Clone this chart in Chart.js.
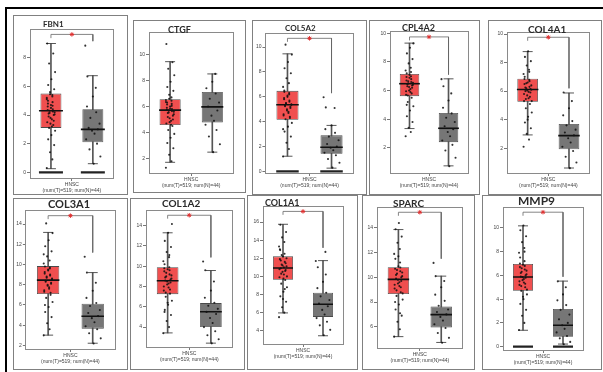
<!DOCTYPE html>
<html><head><meta charset="utf-8">
<script src="https://cdn.jsdelivr.net/npm/chart.js@4"></script>
<style>
html,body{margin:0;padding:0;background:#fff;}
body{width:603px;height:372px;position:relative;overflow:hidden;font-family:"Lato","Open Sans","Liberation Sans",sans-serif;}
.frame{position:absolute;box-sizing:border-box;border:1px solid #808080;}
.cbox{position:absolute;}
.title{position:absolute;font-weight:bold;color:#2a2a2a;white-space:nowrap;line-height:1;transform:translateY(-50%);}
#topline{position:absolute;left:5px;top:7px;width:598px;height:2px;background:#000;}
#leftline{position:absolute;left:5px;top:7px;width:2px;height:365px;background:#000;}
</style></head><body>
<div id="topline"></div><div id="leftline"></div>
<div id="root"></div>
<script>
// ---------------- DATA ----------------
const genes = ['FBN1','CTGF','COL5A2','CPL4A2','COL4A1','COL3A1','COL1A2','COL1A1','SPARC','MMP9'];
const groups = ['Tumor','Normal'];
const xLabel = ['HNSC','(num(T)=519; num(N)=44)'];
const yMin = [-0.4, 0.9, -0.13, 0.23, 0.26, 1.65, 2.04, 2.54, 4.28, -0.28];
const yMax = [10.0, 11.67, 11.1, 10.1, 10.12, 15.3, 15.5, 17.7, 15.67, 11.74];
const yTicks = [
  [0,2,4,6,8],[2,4,6,8,10],[0,2,4,6,8,10],[2,4,6,8,10],[2,4,6,8,10],
  [2,4,6,8,10,12,14],[4,6,8,10,12,14],[4,6,8,10,12,14,16],[6,8,10,12,14],[0,2,4,6,8,10]
];
const tumorLow    = [0.25, 1.72, 1.22, 3.34, 2.93, 3.02, 3.43, 5.97, 5.2, 1.38];
const tumorQ1     = [3.1, 4.58, 4.15, 5.61, 5.25, 7.09, 7.25, 9.62, 8.65, 4.7];
const tumorMedian = [4.3, 5.72, 5.36, 6.48, 6.11, 8.46, 8.57, 10.93, 9.84, 5.86];
const tumorQ3     = [5.5, 6.56, 6.48, 7.16, 6.87, 9.84, 9.9, 12.21, 10.82, 6.96];
const tumorHigh   = [9.0, 9.44, 9.46, 9.32, 8.77, 13.17, 13.3, 15.75, 13.87, 10.17];
const normalLow    = [0.6, 2.5, 0.26, 0.73, 0.61, 2.22, 2.42, 3.45, 4.73, 0.22];
const normalQ1     = [2.1, 4.78, 1.42, 2.39, 1.93, 3.66, 4.0, 5.53, 5.95, 0.83];
const normalMedian = [3.0, 5.97, 1.94, 3.36, 2.88, 4.88, 5.51, 6.92, 6.98, 1.8];
const normalQ3     = [4.4, 7.11, 2.9, 4.43, 3.69, 6.13, 6.37, 8.2, 7.64, 3.18];
const normalHigh   = [6.75, 8.5, 3.7, 6.82, 5.87, 9.2, 9.58, 11.74, 10.1, 5.52];
const tumorPoints = [
  [0.3,0.9,1.4,1.9,2.3,2.6,2.9,3.1,3.3,3.5,3.7,3.8,4.0,4.1,4.2,4.3,4.4,4.6,4.7,4.9,5.0,5.2,5.4,5.6,5.8,6.1,6.5,7.0,7.6,8.3,9.0,
   3.2,3.4,3.6,3.9,4.05,4.15,4.25,4.35,4.5,4.65,4.8,5.1,5.3,5.45],
  [1.3,1.8,2.3,2.8,3.2,3.6,3.9,4.2,4.5,4.7,4.9,5.1,5.3,5.5,5.6,5.7,5.8,5.9,6.0,6.2,6.3,6.5,6.7,6.9,7.2,7.5,7.9,8.4,8.9,9.4,10.8,
   4.6,4.8,5.0,5.2,5.4,5.55,5.65,5.75,5.85,6.05,6.15,6.35,6.45,6.6],
  [1.2,1.8,2.3,2.8,3.2,3.6,3.9,4.2,4.4,4.6,4.8,5.0,5.2,5.3,5.4,5.5,5.7,5.9,6.1,6.3,6.5,6.8,7.1,7.5,7.9,8.3,8.8,9.4,10.2,
   4.3,4.5,4.7,4.9,5.1,5.25,5.35,5.45,5.6,5.8,6.0,6.2,6.4,3.4],
  [2.8,3.1,3.4,3.8,4.2,4.6,4.9,5.2,5.5,5.7,5.9,6.0,6.2,6.3,6.4,6.5,6.6,6.7,6.9,7.0,7.2,7.4,7.6,7.9,8.2,8.6,9.0,9.3,
   5.65,5.8,5.95,6.1,6.25,6.35,6.45,6.55,6.65,6.8,6.95,7.1,7.3,5.0],
  [2.1,2.6,3.0,3.4,3.8,4.2,4.5,4.8,5.1,5.3,5.5,5.7,5.9,6.0,6.1,6.2,6.3,6.5,6.6,6.8,7.0,7.2,7.5,7.8,8.1,8.4,8.8,
   5.3,5.45,5.6,5.8,5.95,6.05,6.15,6.25,6.4,6.55,6.7,6.85,4.0,7.35],
  [3.0,3.6,4.2,4.8,5.3,5.8,6.3,6.7,7.0,7.3,7.6,7.9,8.1,8.3,8.5,8.7,8.9,9.1,9.4,9.6,9.8,10.1,10.4,10.8,11.3,11.8,12.4,13.1,14.06,
   7.2,7.45,7.75,8.0,8.2,8.4,8.6,8.8,9.0,9.25,9.5,9.7,6.0,11.0],
  [3.4,4.0,4.6,5.2,5.7,6.2,6.6,7.0,7.3,7.6,7.9,8.2,8.4,8.6,8.8,9.0,9.2,9.5,9.7,9.9,10.2,10.5,10.9,11.4,11.9,12.5,13.3,14.16,
   7.4,7.7,8.0,8.3,8.5,8.7,8.9,9.1,9.35,9.6,9.8,6.4,11.1,5.5],
  [5.5,6.0,6.6,7.2,7.8,8.3,8.8,9.2,9.6,9.9,10.2,10.5,10.7,10.9,11.1,11.3,11.6,11.9,12.2,12.5,12.9,13.3,13.8,14.3,14.9,15.7,
   9.75,10.0,10.3,10.6,10.8,11.0,11.2,11.45,11.75,12.0,12.35,8.6,13.0,7.5],
  [5.2,5.8,6.4,6.9,7.4,7.8,8.2,8.5,8.8,9.1,9.3,9.5,9.7,9.9,10.1,10.3,10.5,10.7,10.9,11.2,11.5,11.9,12.3,12.8,13.3,13.9,14.4,
   8.7,8.95,9.2,9.4,9.6,9.8,10.0,10.2,10.4,10.6,10.8,8.0,11.7,7.1],
  [1.4,2.0,2.6,3.1,3.6,4.0,4.4,4.7,5.0,5.2,5.4,5.6,5.8,5.9,6.1,6.3,6.5,6.7,6.9,7.2,7.5,7.9,8.3,8.8,9.3,9.8,10.2,
   4.8,5.1,5.3,5.5,5.7,5.85,6.0,6.2,6.4,6.6,6.8,7.0,4.2,8.0]
];
const normalPoints = [
  [0.6,1.1,1.6,2.0,2.3,2.7,2.9,3.0,3.1,3.4,3.8,4.2,4.6,5.3,5.9,6.7,8.85],
  [2.5,3.1,3.7,4.2,4.6,4.9,5.3,5.7,6.0,6.3,6.6,7.0,7.4,7.9,8.5],
  [0.3,0.7,1.0,1.3,1.5,1.7,1.9,2.0,2.2,2.5,2.8,3.1,3.4,3.7,5.1,5.15,5.96],
  [0.7,1.3,1.8,2.2,2.5,2.8,3.1,3.3,3.5,3.8,4.1,4.4,4.8,5.3,5.8,6.3,6.8],
  [0.6,1.0,1.4,1.8,2.1,2.4,2.7,2.9,3.1,3.3,3.6,3.9,4.3,4.8,5.3,5.9],
  [2.2,2.7,3.2,3.6,3.9,4.3,4.7,4.9,5.2,5.5,5.9,6.2,6.7,7.4,8.2,9.2,10.77],
  [2.4,2.8,3.2,3.6,4.0,4.4,4.9,5.3,5.5,5.8,6.1,6.4,6.9,7.6,8.5,9.6,10.47],
  [3.5,4.1,4.6,5.0,5.4,5.8,6.3,6.7,7.0,7.4,7.8,8.2,8.7,9.4,10.2,11.0,11.7,12.7],
  [4.7,5.1,5.5,5.9,6.2,6.5,6.8,7.0,7.2,7.4,7.7,8.1,8.6,9.2,9.7,10.1,11.17],
  [0.2,0.4,0.7,0.9,1.2,1.5,1.8,2.0,2.3,2.7,3.1,3.5,3.9,4.4,5.0,5.5]
];
const zeroCluster = [true,false,true,false,false,false,false,false,false,true];
const significant = [true,false,true,true,true,true,true,true,true,true];

// ---------------- LAYOUT / STYLE ----------------
const frames = [[13,15,115,180],[133,20,113,173],[252,20,115,175],[369,20,111,175],[488,20,114,175],
                [13,198,115,172],[130,198,115,172],[247,195,111,175],[362,195,113,175],[482,195,120,175]];
const plots = [[30,25,126,178],[149,32,237,173],[265,28,355,173],[390,28,473,173],[507,32,593,173],
               [25,207,115,349],[146,205,233,347],[263,205,343,344],[377,205,463,348],[503,205,583,350]];
const titles = [[43,24,8],[168,29,9],[285,28,8],[402,27,9],[528,29,10],[48,203,11],[162,203,10],[265,202,9],[393,203,10],[518,201,12]];
const JIT = [-0.9,0.3,-0.2,0.7,-0.6,0.1,0.9,-0.4,0.5,-0.8,0.2,-0.1,0.6,-0.5,0.8,-0.3,0.4,-0.7,0,0.35,-0.65];
const RED = '#f04f4f', GREY = '#767676';
const YW = 12, XH = 15;

const root = document.getElementById('root');
genes.forEach((g,i)=>{
  const [fx,fy,fw,fh] = frames[i];
  const [px0,py0,px1,py1] = plots[i];
  const fr = document.createElement('div'); fr.className='frame';
  Object.assign(fr.style,{left:fx+'px',top:fy+'px',width:fw+'px',height:fh+'px'});
  root.appendChild(fr);
  const box = document.createElement('div'); box.className='cbox';
  Object.assign(box.style,{left:fx+'px',top:fy+'px',width:fw+'px',height:fh+'px'});
  const cv = document.createElement('canvas'); box.appendChild(cv); root.appendChild(box);
  const t = document.createElement('div'); t.className='title'; t.textContent=g;
  Object.assign(t.style,{left:titles[i][0]+'px',top:titles[i][1]+'px',fontSize:titles[i][2]+'px'});
  root.appendChild(t);

  const range = yMax[i]-yMin[i];
  const half = (px1-px0)*0.125;
  const tPts = tumorPoints[i].map((v,k)=>({x:0+JIT[k%JIT.length]*0.11, y:v}));
  const nPts = normalPoints[i].map((v,k)=>({x:1+JIT[(k+5)%JIT.length]*0.2, y:v}));
  const datasets = [
    {type:'bar', xAxisID:'x', yAxisID:'y', data:[[tumorLow[i],tumorHigh[i]],[normalLow[i],normalHigh[i]]],
     backgroundColor:'#555', barThickness:1, grouped:false, order:7},
    {type:'bar', xAxisID:'x', yAxisID:'y', data:[[tumorQ1[i],tumorQ3[i]],[normalQ1[i],normalQ3[i]]],
     backgroundColor:[RED,GREY], borderColor:'#4a4a4a', borderWidth:0.8, borderSkipped:false,
     barPercentage:0.5, categoryPercentage:1, grouped:false, order:6},
    {type:'scatter', xAxisID:'xj', yAxisID:'y',
     data:[{x:0,y:tumorLow[i]},{x:0,y:tumorHigh[i]},{x:1,y:normalLow[i]},{x:1,y:normalHigh[i]}],
     pointStyle:'line', pointRadius:5, pointBorderColor:'#444', pointBorderWidth:0.9, order:5},
    {type:'scatter', xAxisID:'xj', yAxisID:'y', data:tPts.concat(nPts),
     pointRadius:1.05, pointBackgroundColor:'rgba(15,15,15,0.85)', pointBorderWidth:0, order:3},
    {type:'scatter', xAxisID:'xj', yAxisID:'y',
     data:[{x:0,y:tumorMedian[i]},{x:1,y:normalMedian[i]}],
     pointStyle:'line', pointRadius:half, pointBorderColor:'#111', pointBorderWidth:1.6, order:2}
  ];
  if (zeroCluster[i]) datasets.push({type:'scatter', xAxisID:'xj', yAxisID:'y',
     data:[{x:0,y:0},{x:1,y:0}], pointStyle:'line', pointRadius:half, pointBorderColor:'#222', pointBorderWidth:2.2, order:4});
  if (significant[i]) {
    const top = yMax[i] - 0.035*range;
    const nMax = Math.max(normalHigh[i], ...normalPoints[i]);
    datasets.push({type:'line', xAxisID:'xj', yAxisID:'y',
      data:[{x:0,y:top-0.025*range},{x:0,y:top},{x:1,y:top},{x:1,y:nMax+0.03*range}],
      borderColor:'#666', borderWidth:0.8, pointRadius:0, tension:0, fill:false, order:1});
    datasets.push({type:'scatter', xAxisID:'xj', yAxisID:'y', data:[{x:0.5,y:top}],
      pointStyle:'star', pointRadius:2.2, pointBorderColor:'#e03030', pointBorderWidth:1, order:0});
  }
  const tickFont = {family:'Liberation Sans', size:5};
  new Chart(cv, {
    type:'bar',
    data:{labels:groups, datasets},
    options:{
      responsive:true, maintainAspectRatio:false, animation:false, events:[],
      layout:{padding:{left:px0-fx-YW, right:fx+fw-px1, top:py0-fy, bottom:fy+fh-py1-XH}},
      plugins:{legend:{display:false}, tooltip:{enabled:false}},
      scales:{
        x:{type:'category', display:false, offset:true},
        xj:{type:'linear', position:'bottom', min:-0.5, max:1.5, offset:false,
            afterBuildTicks:s=>{s.ticks=[{value:0.5}];},
            afterFit:s=>{s.height=XH;},
            grid:{display:true, offset:false, drawOnChartArea:false, tickLength:3, color:'#777'},
            border:{display:true, color:'#8a8a8a', width:1},
            ticks:{font:tickFont, color:'#444', padding:1, maxRotation:0, minRotation:0, callback:()=>xLabel}},
        y:{type:'linear', position:'left', min:yMin[i], max:yMax[i],
           afterBuildTicks:s=>{s.ticks=yTicks[i].map(v=>({value:v}));},
           afterFit:s=>{s.width=YW;},
           grid:{display:true, drawOnChartArea:false, tickLength:3, color:'#777'},
           border:{display:true, color:'#8a8a8a', width:1},
           ticks:{font:tickFont, color:'#444', padding:1}},
        yr:{type:'linear', position:'right', display:true, afterFit:s=>{s.width=0;},
            ticks:{display:false}, grid:{display:false}, border:{display:true, color:'#8a8a8a', width:1}},
        xt:{type:'linear', position:'top', display:true, offset:false, afterFit:s=>{s.height=0;},
            ticks:{display:false}, grid:{display:false}, border:{display:true, color:'#8a8a8a', width:1}}
      }
    }
  });
});
</script>
</body></html>
